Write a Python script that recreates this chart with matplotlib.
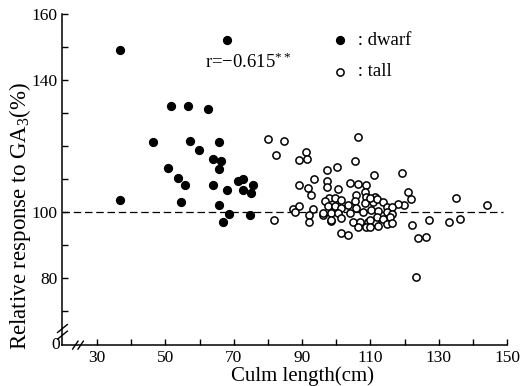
import numpy as np
import matplotlib
matplotlib.use("Agg")
import matplotlib.pyplot as plt

plt.rcParams['font.family'] = ['Liberation Serif', 'DejaVu Serif']
plt.rcParams['mathtext.fontset'] = 'custom'
plt.rcParams['mathtext.rm'] = 'Liberation Serif'
plt.rcParams['mathtext.it'] = 'Liberation Serif:italic'

# dwarf lines: culm length (cm), relative response to GA3 (%)
dwarf_x = [36.6, 67.9, 51.5, 56.6, 62.3, 46.4, 57.1, 65.6, 59.9, 63.8,
           66.2, 65.6, 50.7, 53.8, 55.8, 64.0, 67.9, 71.1, 72.6, 75.6,
           72.6, 75.0, 36.6, 54.4, 65.6, 68.7, 74.6, 66.8]
dwarf_y = [149.0, 152.0, 132.1, 132.0, 131.3, 121.1, 121.4, 121.3, 118.9, 116.0,
           115.5, 113.0, 113.4, 110.3, 108.2, 108.3, 106.6, 109.3, 110.0, 108.3,
           106.6, 105.8, 103.7, 103.0, 102.2, 99.3, 99.2, 97.1]

# tall lines
tall_x = [80.1, 84.6, 82.4, 106.4, 91.2, 91.5, 89.2, 105.6, 100.3, 97.4,
          111.1, 119.1, 93.4, 89.2, 91.7, 92.6, 97.2, 97.2, 100.5, 103.9,
          106.4, 108.8, 111.4, 108.5, 121.1, 121.9, 135.0, 144.2, 119.9, 118.1,
          81.9, 87.3, 89.2, 87.8, 93.1, 92.1, 92.1, 96.1, 98.5,
          105.9, 108.8, 98.0, 99.5, 101.5, 96.6, 103.4, 105.4, 108.3, 110.8,
          97.6, 99.5, 101.5, 105.9, 96.1, 98.5, 100.5, 103.9, 107.8, 110.3,
          98.5, 101.5, 104.9, 106.9, 109.3, 111.3, 106.4, 108.8, 101.5, 103.4,
          109.8, 111.8, 113.7, 114.7, 116.2, 112.3, 114.7, 116.2, 115.7, 111.8,
          113.7, 109.8, 109.8, 112.3, 114.7, 116.2,
          122.3, 127.0, 132.9, 136.2, 124.0, 126.4, 123.2]
tall_y = [122.2, 121.4, 117.2, 122.6, 118.3, 116.0, 115.8, 115.3, 113.7, 112.7,
          111.1, 111.8, 110.0, 108.2, 107.4, 105.1, 109.3, 107.5, 106.9, 108.7,
          108.6, 108.1, 104.5, 106.1, 106.1, 104.0, 104.1, 102.0, 102.2, 102.4,
          97.7, 100.9, 101.9, 99.9, 100.8, 99.1, 97.0, 99.0, 97.2,
          105.1, 104.5, 104.3, 104.2, 103.7, 103.3, 102.1, 103.2, 102.6, 103.1,
          101.7, 101.7, 101.2, 101.1, 99.7, 99.7, 99.6, 99.6, 100.1, 100.5,
          97.7, 98.1, 97.0, 97.0, 96.9, 96.9, 95.5, 95.5, 93.6, 93.0,
          104.1, 104.0, 103.0, 101.4, 101.4, 100.4, 100.0, 99.4, 98.4, 98.4,
          97.9, 97.5, 95.5, 95.9, 96.3, 96.8,
          96.0, 97.7, 97.1, 98.0, 92.1, 92.5, 80.3]

ref_level = 100
ref_x_end = 148.8

x_ticks = list(range(30, 151, 10))
x_labels = [str(t) if t in (30, 50, 70, 90, 110, 130, 150) else '' for t in x_ticks]
y_ticks = list(range(70, 161, 10))
y_labels = [str(t) if t in (80, 100, 140, 160) else '' for t in y_ticks]

fig = plt.figure(figsize=(5.28, 3.86), dpi=100)
ax = fig.add_axes([0.1174, 0.106, 0.843, 0.858])

ax.scatter(dwarf_x, dwarf_y, s=34, c='black', edgecolors='black', linewidths=0.8,
           label=' : dwarf', zorder=3)
ax.scatter(tall_x, tall_y, s=27, facecolors='white', edgecolors='black', linewidths=1.1,
           label=' : tall', zorder=3)
ax.hlines(ref_level, 19.7, ref_x_end, colors='black', linestyles=(0, (6, 3)), linewidth=0.9, zorder=2)

ax.set_xlim(19.7, 150)
ax.set_ylim(59.7, 160)
ax.set_xticks(x_ticks)
ax.set_xticklabels(x_labels)
ax.set_yticks(y_ticks)
ax.set_yticklabels(y_labels)
ax.tick_params(direction='in', length=4.5, width=1, labelsize=12.5, pad=3)
ax.tick_params(axis='x', pad=3.5)

for side in ('top', 'right'):
    ax.spines[side].set_visible(False)
for side in ('left', 'bottom'):
    ax.spines[side].set_linewidth(1.1)

ax.set_xlabel('Culm length(cm)', fontsize=15)
ax.xaxis.set_label_coords(0.54, -0.064)
ax.set_ylabel('Relative response to GA$_3$(%)', fontsize=16.5)
ax.yaxis.set_label_coords(-0.066, 0.39)

ax.text(0.322, 0.855, 'r=\u22120.615$^{**}$', transform=ax.transAxes, fontsize=13.5,
        ha='left', va='center')
ax.text(-0.004, 0.0, '0', transform=ax.transAxes, fontsize=12.5, ha='right', va='center')

ax.legend(loc='center left', bbox_to_anchor=(0.574, 0.872), frameon=False,
          fontsize=13.5, handlelength=1.0, handletextpad=0.2, labelspacing=0.75,
          borderpad=0.2)

# axis break marks
kw = dict(transform=ax.transAxes, color='black', linewidth=1, clip_on=False)
for yy in (0.03, 0.05):
    ax.plot([-0.01, 0.012], [yy - 0.012, yy + 0.012], **kw)
for xx in (0.03, 0.042):
    ax.plot([xx - 0.006, xx + 0.006], [-0.012, 0.012], **kw)

fig.savefig('out.png', dpi=100)
